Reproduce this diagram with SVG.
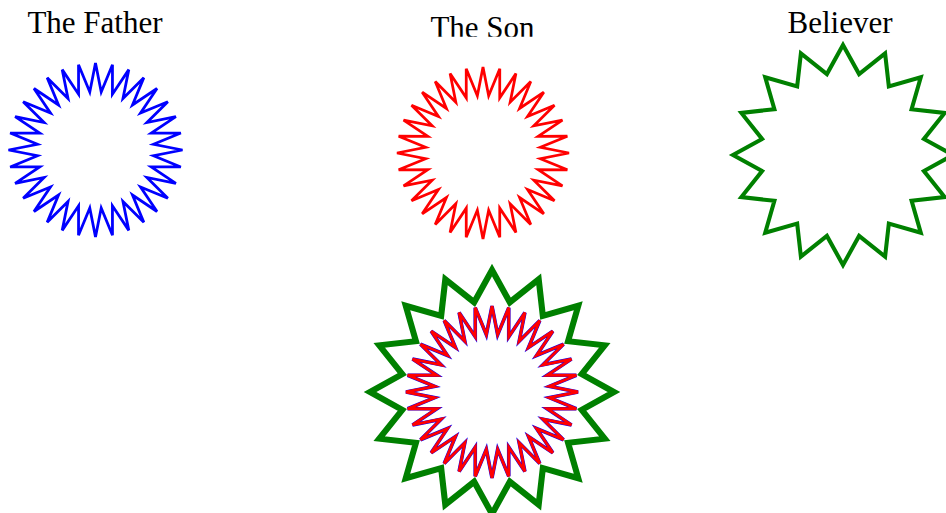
<svg xmlns="http://www.w3.org/2000/svg" xmlns:xlink="http://www.w3.org/1999/xlink" width="946" height="513" viewBox="0 0 946 513">
<style>
.lbl{font-family:"Liberation Serif","Times New Roman",serif;font-size:31px;fill:#000;text-anchor:middle}
.star{fill:none;stroke-linejoin:miter}
</style>
<defs>
<polygon id="s32" points="0,-100 6.57,-66.68 19.51,-98.08 19.45,-64.11 38.27,-92.39 31.58,-59.09 55.56,-83.15 42.5,-51.79 70.71,-70.71 51.79,-42.5 83.15,-55.56 59.09,-31.58 92.39,-38.27 64.11,-19.45 98.08,-19.51 66.68,-6.57 100,0 66.68,6.57 98.08,19.51 64.11,19.45 92.39,38.27 59.09,31.58 83.15,55.56 51.79,42.5 70.71,70.71 42.5,51.79 55.56,83.15 31.58,59.09 38.27,92.39 19.45,64.11 19.51,98.08 6.57,66.68 0,100 -6.57,66.68 -19.51,98.08 -19.45,64.11 -38.27,92.39 -31.58,59.09 -55.56,83.15 -42.5,51.79 -70.71,70.71 -51.79,42.5 -83.15,55.56 -59.09,31.58 -92.39,38.27 -64.11,19.45 -98.08,19.51 -66.68,6.57 -100,0 -66.68,-6.57 -98.08,-19.51 -64.11,-19.45 -92.39,-38.27 -59.09,-31.58 -83.15,-55.56 -51.79,-42.5 -70.71,-70.71 -42.5,-51.79 -55.56,-83.15 -31.58,-59.09 -38.27,-92.39 -19.45,-64.11 -19.51,-98.08 -6.57,-66.68"/>
<polygon id="s16" points="0,-100 14.63,-73.56 38.27,-92.39 41.67,-62.36 70.71,-70.71 62.36,-41.67 92.39,-38.27 73.56,-14.63 100,0 73.56,14.63 92.39,38.27 62.36,41.67 70.71,70.71 41.67,62.36 38.27,92.39 14.63,73.56 0,100 -14.63,73.56 -38.27,92.39 -41.67,62.36 -70.71,70.71 -62.36,41.67 -92.39,38.27 -73.56,14.63 -100,0 -73.56,-14.63 -92.39,-38.27 -62.36,-41.67 -70.71,-70.71 -41.67,-62.36 -38.27,-92.39 -14.63,-73.56"/>
<clipPath id="sonclip"><rect x="380" y="0" width="220" height="36.8"/></clipPath>
</defs>
<g id="father">
<text class="lbl" x="95" y="33">The Father</text>
<use xlink:href="#s32" class="star" transform="translate(95.5,150) scale(0.87)" stroke="#0000ff" stroke-width="3.2"/>
</g>
<g id="son">
<text class="lbl" x="482.5" y="38" clip-path="url(#sonclip)">The Son</text>
<use xlink:href="#s32" class="star" transform="translate(483,153) scale(0.86)" stroke="#ff0000" stroke-width="3.2"/>
</g>
<g id="believer">
<text class="lbl" x="840" y="33">Believer</text>
<use xlink:href="#s16" class="star" transform="translate(843,155) scale(1.1)" stroke="#008000" stroke-width="3.7"/>
</g>
<g id="union">
<use xlink:href="#s16" class="star" transform="translate(492,392) scale(1.22)" stroke="#008000" stroke-width="5"/>
<use xlink:href="#s32" class="star" transform="translate(492,392) scale(0.86)" stroke="#0000ff" stroke-width="4.2"/>
<use xlink:href="#s32" class="star" transform="translate(492,392) scale(0.86)" stroke="#ff0000" stroke-width="3.3"/>
</g>
<g id="connectors"></g>
</svg>
